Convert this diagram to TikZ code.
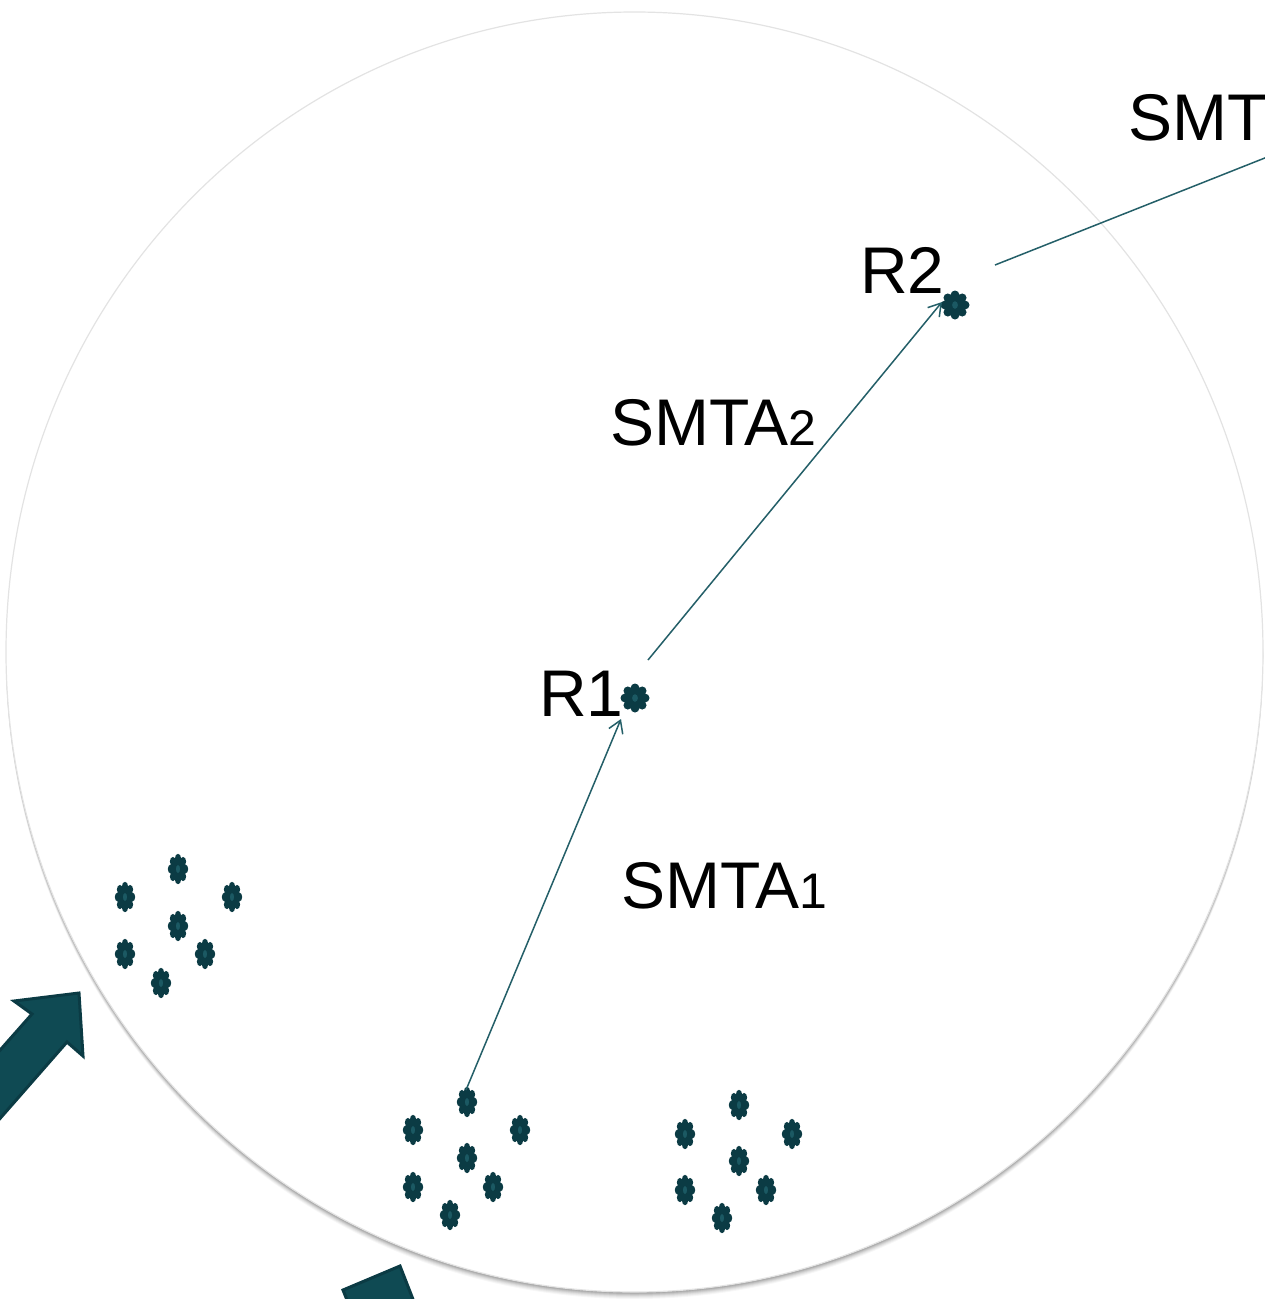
\documentclass[tikz,border=0pt]{standalone}
\usepackage{fontspec}
\setmainfont{Liberation Sans}
\usetikzlibrary{arrows.meta}
\definecolor{fdark}{HTML}{0B3B44}
\definecolor{fmid}{HTML}{1B5963}
\definecolor{afill}{HTML}{0F4A53}
\definecolor{cline}{HTML}{245F68}
\tikzset{
  petals/.pic={
    \fill[fdark] (0,0) circle [radius=0.72];
    \foreach \a in {0,45,...,315} \fill[fdark] (\a:0.70) circle [radius=0.30];
    \fill[fmid] (0,0) ellipse [x radius=0.2, y radius=0.26];
  },
  smallstar/.pic={\pic[xscale=10.2,yscale=15.2]{petals};},
  bigstar/.pic={\pic[xscale=14.5,yscale=14.5]{petals};},
  lbl/.style={inner sep=0pt, font=\fontsize{66}{76}\selectfont, anchor=base west},
  conn/.style={draw=cline, line width=1.5pt},
  tip/.style={-{Straight Barb[length=12pt,width=15pt,line width=1.5pt]}},
  blockarrow/.style={fill=afill, draw=fdark, line width=3pt, line join=miter},
}
\newcommand{\subsz}{\fontsize{50}{55}\selectfont}
\begin{document}
\begin{tikzpicture}[x=1pt,y=-1pt]
\useasboundingbox (0,0) rectangle (1265,1299);
\clip (0,0) rectangle (1265,1299);
% big circle with soft shadow
\foreach \i/\o in {1/0.10,2/0.09,3/0.08,4/0.06,5/0.05,6/0.04,7/0.03}
  \fill[black,opacity=\o] (634.5,652+\i) ellipse [x radius=628.5pt, y radius=640pt];
\fill[white] (634.5,652) ellipse [x radius=628.5pt, y radius=640pt];
\draw[gray!22, line width=1.2pt] (634.5,652) ellipse [x radius=628.5pt, y radius=640pt];
% block arrows
\draw[blockarrow] (79,993) -- (83,1056) -- (67,1042) -- (-32,1155) -- (-67,1126) -- (32,1014) -- (14,1001) -- cycle;
\draw[blockarrow] (400,1266) -- (343,1290) -- (355,1320) -- (425,1330) -- cycle;
% clusters
\foreach \n/\px/\py in {a/178/869,b/125/897,c/232/897,d/178/926,e/125/954,f/205/954,g/161/983}
  {\pic at (\px,\py) {smallstar};}
\foreach \n/\px/\py in {a/467/1102,b/413/1130,c/520/1130,d/467/1158,e/413/1187,f/493/1187,g/450/1215}
  {\pic at (\px,\py) {smallstar};}
\foreach \n/\px/\py in {a/739/1105,b/685/1134,c/792/1134,d/739/1161,e/685/1190,f/766/1190,g/722/1218}
  {\pic at (\px,\py) {smallstar};}
% relay stars
\coordinate (rone) at (635,698);
\coordinate (rtwo) at (955,305);
\pic at (rone) {bigstar};
\pic at (rtwo) {bigstar};
% labels
\node[lbl] (smt) at (1128,140) {SMT};
\node[lbl] (r2) at (860,293) {R2};
\node[lbl] (smta2) at (610,445) {SMTA{\subsz 2}};
\node[lbl] (r1) at (539,716) {R1};
\node[lbl] (smta1) at (621,908) {SMTA{\subsz 1}};
% connectors
\coordinate (s2top) at (466,1090);
\coordinate (r1in) at (621,719);
\coordinate (r1out) at (648,660);
\coordinate (r2in) at (942,302);
\coordinate (r2out) at (995,265);
\coordinate (farout) at (1290,148);
\draw[conn,tip] (s2top) -- (r1in);
\draw[conn,tip] (r1out) -- (r2in);
\draw[conn] (r2out) -- (farout);
\end{tikzpicture}
\end{document}
